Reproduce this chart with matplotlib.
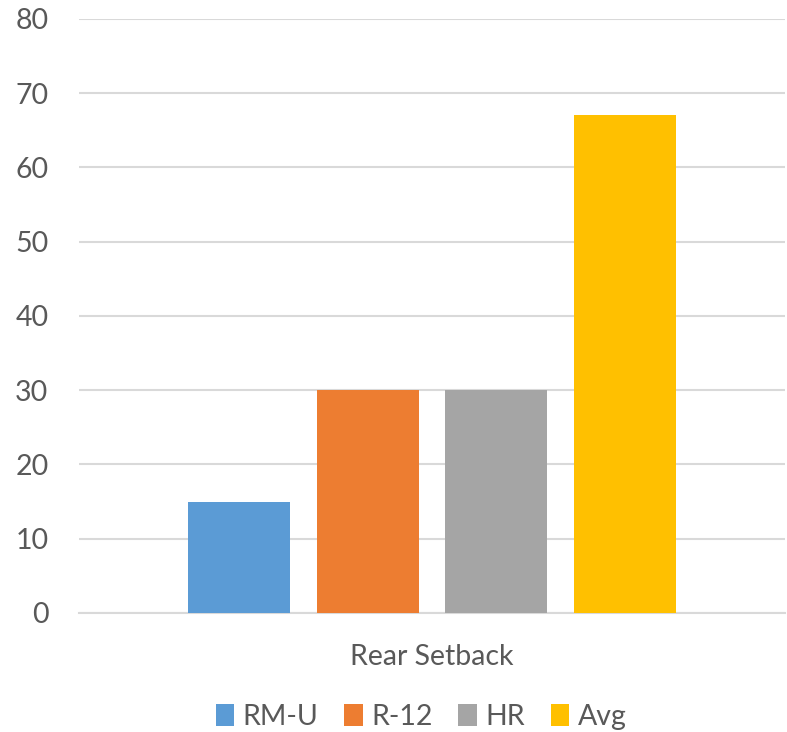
import matplotlib.pyplot as plt
import numpy as np

categories = ['Rear Setback']
series_names = ['RM-U', 'R-12', 'HR', 'Avg']
series_values = [15, 30, 30, 67]
colors = ['#5b9bd5', '#ed7d31', '#a5a5a5', '#ffc000']
y_ticks = [0, 10, 20, 30, 40, 50, 60, 70, 80]

plt.rcParams['font.family'] = ['Lato', 'DejaVu Sans']

fig = plt.figure(figsize=(7.87, 7.32), dpi=100)
ax = fig.add_axes([0.1004, 0.1626, 0.897, 0.8115])

x = np.arange(len(categories))
step = 0.1823
width = 0.1445
for i, (name, val, col) in enumerate(zip(series_names, series_values, colors)):
    ax.bar(x + (i - 1.5) * step, [val], width=width, color=col, label=name, zorder=3)

ax.set_xlim(-0.5, 0.5)
ax.set_ylim(0, 80)
ax.set_yticks(y_ticks)
ax.set_xticks(x)
ax.set_xticklabels(categories)

# gridlines only, no frame
ax.grid(axis='y', color='#d9d9d9', linewidth=1.5, zorder=0)
for s in ['top', 'right', 'left']:
    ax.spines[s].set_visible(False)
ax.spines['bottom'].set_color('#d9d9d9')
ax.spines['bottom'].set_linewidth(1.5)
ax.tick_params(axis='both', length=0, labelsize=20.5, labelcolor='#595959')
ax.tick_params(axis='y', pad=22)
ax.tick_params(axis='x', pad=22)

fig.legend(loc='center', bbox_to_anchor=(421 / 787, 1 - 717 / 732), ncol=4,
           frameon=False, fontsize=20.5, labelcolor='#595959',
           handlelength=0.65, handleheight=0.8, handletextpad=0.3,
           columnspacing=0.9, borderaxespad=0)

fig.savefig('out.png', dpi=100)
